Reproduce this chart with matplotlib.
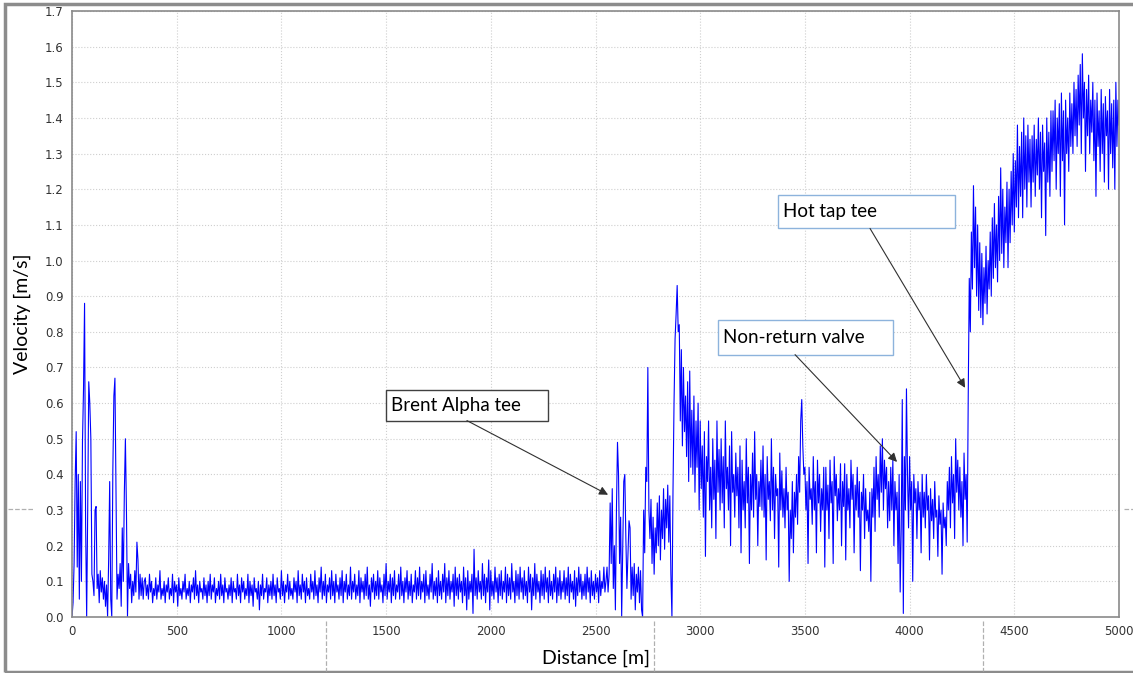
import numpy as np
import matplotlib.pyplot as plt
from matplotlib.patches import Rectangle
from matplotlib.lines import Line2D

# 速度数据 (m/s)，分段按固定采样间距读取
inlet_start, inlet_step = 0, 5
inlet_v = [0.00, 0.04, 0.15, 0.38, 0.52, 0.14, 0.40, 0.05, 0.38, 0.10,
           0.49, 0.64, 0.88, 0.26, 0.00, 0.30, 0.66, 0.60, 0.50, 0.12,
           0.10, 0.06, 0.30, 0.31, 0.08, 0.12, 0.04, 0.13, 0.07, 0.11,
           0.05, 0.10, 0.03, 0.09, 0.00, 0.16, 0.38, 0.05, 0.00, 0.41,
           0.62, 0.67, 0.35, 0.05, 0.12, 0.08, 0.15, 0.03, 0.25, 0.10,
           0.35, 0.50, 0.30, 0.00, 0.15, 0.08, 0.12, 0.04, 0.10, 0.06,
           0.13, 0.07, 0.21, 0.16, 0.05, 0.12, 0.06, 0.11, 0.05, 0.10]

low_start, low_step = 350, 5
low_v = [0.11, 0.06, 0.09, 0.05, 0.12, 0.07, 0.10, 0.04, 0.08, 0.06, 0.11, 0.05, 0.09, 0.07, 0.13, 0.05, 0.08, 0.06, 0.10, 0.04,
         0.09, 0.07, 0.11, 0.05, 0.08, 0.06, 0.12, 0.04, 0.10, 0.07, 0.09, 0.03, 0.11, 0.06, 0.08, 0.05, 0.10, 0.07, 0.12, 0.05,
         0.08, 0.06, 0.10, 0.04, 0.09, 0.07, 0.11, 0.05, 0.13, 0.06, 0.09, 0.04, 0.10, 0.07, 0.08, 0.05, 0.11, 0.06, 0.09, 0.04,
         0.10, 0.06, 0.12, 0.05, 0.09, 0.07, 0.11, 0.04, 0.08, 0.06, 0.10, 0.05, 0.12, 0.06, 0.09, 0.04, 0.11, 0.07, 0.08, 0.05,
         0.09, 0.06, 0.11, 0.04, 0.10, 0.07, 0.08, 0.05, 0.12, 0.06, 0.09, 0.04, 0.11, 0.07, 0.10, 0.05, 0.08, 0.06, 0.12, 0.04,
         0.10, 0.06, 0.09, 0.03, 0.11, 0.07, 0.08, 0.05, 0.10, 0.02, 0.09, 0.06, 0.12, 0.05, 0.08, 0.07, 0.11, 0.04, 0.09, 0.06,
         0.10, 0.05, 0.12, 0.06, 0.09, 0.04, 0.11, 0.07, 0.08, 0.05, 0.13, 0.06, 0.10, 0.04, 0.09, 0.07, 0.12, 0.05, 0.10, 0.06,
         0.08, 0.05, 0.11, 0.07, 0.10, 0.04, 0.13, 0.06, 0.09, 0.05, 0.12, 0.07, 0.10, 0.04, 0.11, 0.06, 0.08, 0.05, 0.12, 0.07,
         0.10, 0.05, 0.13, 0.06, 0.09, 0.04, 0.11, 0.07, 0.14, 0.05, 0.10, 0.06, 0.12, 0.04, 0.09, 0.07, 0.11, 0.05, 0.13, 0.06,
         0.10, 0.04, 0.12, 0.07, 0.09, 0.05, 0.11, 0.06, 0.13, 0.04, 0.10, 0.07, 0.12, 0.05, 0.09, 0.06, 0.14, 0.05, 0.10, 0.07,
         0.12, 0.05, 0.09, 0.06, 0.13, 0.04, 0.11, 0.07, 0.10, 0.05, 0.12, 0.06, 0.14, 0.05, 0.09, 0.03, 0.11, 0.07, 0.12, 0.05,
         0.10, 0.06, 0.13, 0.05, 0.11, 0.07, 0.09, 0.04, 0.12, 0.06, 0.15, 0.05, 0.10, 0.07, 0.12, 0.04, 0.11, 0.06, 0.13, 0.05,
         0.09, 0.07, 0.12, 0.05, 0.14, 0.06, 0.10, 0.04, 0.11, 0.07, 0.13, 0.05, 0.10, 0.06, 0.12, 0.04, 0.09, 0.07, 0.13, 0.05,
         0.11, 0.06, 0.14, 0.05, 0.10, 0.07, 0.12, 0.04, 0.13, 0.06, 0.09, 0.05, 0.12, 0.07, 0.15, 0.05, 0.10, 0.06, 0.11, 0.04,
         0.13, 0.06, 0.10, 0.05, 0.12, 0.07, 0.15, 0.04, 0.11, 0.06, 0.13, 0.05, 0.10, 0.07, 0.12, 0.03, 0.14, 0.06, 0.11, 0.05,
         0.12, 0.07, 0.10, 0.04, 0.14, 0.06, 0.11, 0.02, 0.13, 0.05, 0.10, 0.07, 0.12, 0.01, 0.19, 0.06, 0.11, 0.05, 0.13, 0.07,
         0.10, 0.05, 0.15, 0.06, 0.12, 0.04, 0.11, 0.07, 0.16, 0.02, 0.13, 0.06, 0.10, 0.05, 0.14, 0.07, 0.11, 0.04, 0.12, 0.06,
         0.13, 0.05, 0.10, 0.07, 0.14, 0.04, 0.12, 0.06, 0.11, 0.05, 0.15, 0.07, 0.10, 0.04, 0.13, 0.06, 0.12, 0.05, 0.14, 0.07,
         0.11, 0.05, 0.13, 0.06, 0.10, 0.04, 0.14, 0.07, 0.12, 0.02, 0.11, 0.06, 0.15, 0.05, 0.12, 0.07, 0.10, 0.04, 0.13, 0.06,
         0.12, 0.05, 0.14, 0.07, 0.11, 0.04, 0.13, 0.06, 0.10, 0.05, 0.12, 0.07, 0.14, 0.04, 0.11, 0.06, 0.13, 0.05, 0.10, 0.07,
         0.13, 0.05, 0.11, 0.06, 0.14, 0.04, 0.12, 0.07, 0.10, 0.05, 0.13, 0.03, 0.11, 0.06, 0.14, 0.07, 0.12, 0.05, 0.10, 0.06,
         0.12, 0.05, 0.14, 0.07, 0.11, 0.04, 0.13, 0.06, 0.10, 0.05, 0.12, 0.07, 0.11, 0.04, 0.13, 0.06, 0.10, 0.08, 0.14, 0.07]

brent_start, brent_step = 2550, 5
brent_v = [0.10, 0.14, 0.07, 0.12, 0.32, 0.15, 0.36, 0.08, 0.20, 0.02,
           0.30, 0.49, 0.40, 0.15, 0.28, 0.00, 0.20, 0.38, 0.40, 0.22,
           0.08, 0.18, 0.27, 0.25, 0.05, 0.14, 0.06, 0.15, 0.02, 0.12,
           0.07, 0.14, 0.04, 0.13, 0.02, 0.00, 0.30, 0.18, 0.42, 0.38,
           0.70, 0.30, 0.22, 0.33, 0.15, 0.28, 0.12, 0.25, 0.18, 0.32,
           0.20, 0.34, 0.16, 0.30, 0.22, 0.36, 0.19, 0.33, 0.25, 0.37,
           0.21, 0.34, 0.12, 0.00, 0.35, 0.60, 0.78, 0.85, 0.93, 0.80]

mid_start, mid_step = 2900, 5
mid_v = [0.82, 0.55, 0.75, 0.48, 0.70, 0.52, 0.62, 0.45, 0.66, 0.38, 0.69, 0.42, 0.58, 0.40, 0.62, 0.35, 0.55, 0.42, 0.60, 0.30,
         0.55, 0.36, 0.48, 0.28, 0.52, 0.17, 0.45, 0.38, 0.55, 0.30, 0.42, 0.25, 0.50, 0.33, 0.44, 0.22, 0.55, 0.35, 0.47, 0.30,
         0.50, 0.32, 0.45, 0.25, 0.55, 0.36, 0.42, 0.30, 0.48, 0.20, 0.52, 0.35, 0.40, 0.28, 0.46, 0.34, 0.42, 0.25, 0.48, 0.18,
         0.44, 0.30, 0.38, 0.25, 0.50, 0.32, 0.42, 0.15, 0.40, 0.30, 0.46, 0.28, 0.52, 0.33, 0.40, 0.20, 0.38, 0.31, 0.44, 0.30,
         0.48, 0.28, 0.40, 0.16, 0.45, 0.33, 0.38, 0.27, 0.50, 0.30, 0.42, 0.22, 0.40, 0.34, 0.36, 0.14, 0.46, 0.30, 0.41, 0.28,
         0.36, 0.25, 0.42, 0.30, 0.35, 0.10, 0.30, 0.22, 0.38, 0.18, 0.35, 0.28, 0.40, 0.26, 0.45, 0.35, 0.55, 0.61, 0.48, 0.40,
         0.42, 0.30, 0.38, 0.15, 0.42, 0.33, 0.36, 0.26, 0.45, 0.30, 0.38, 0.18, 0.44, 0.32, 0.40, 0.24, 0.36, 0.30, 0.42, 0.14,
         0.42, 0.30, 0.37, 0.22, 0.44, 0.32, 0.38, 0.15, 0.45, 0.34, 0.40, 0.27, 0.36, 0.30, 0.43, 0.20, 0.38, 0.31, 0.43, 0.16,
         0.40, 0.30, 0.36, 0.25, 0.44, 0.33, 0.40, 0.18, 0.37, 0.30, 0.42, 0.28, 0.38, 0.13, 0.35, 0.30, 0.40, 0.22, 0.36, 0.27,
         0.30, 0.24, 0.35, 0.10, 0.36, 0.28, 0.42, 0.24, 0.45, 0.33, 0.40, 0.28, 0.48, 0.35, 0.50, 0.30, 0.44, 0.36, 0.42, 0.25,
         0.38, 0.27, 0.42, 0.30, 0.44, 0.20, 0.38, 0.30, 0.35, 0.15, 0.40, 0.07, 0.25, 0.61, 0.01, 0.45, 0.30, 0.64, 0.40, 0.25,
         0.45, 0.30, 0.38, 0.10, 0.40, 0.32, 0.36, 0.22, 0.38, 0.30, 0.35, 0.18, 0.40, 0.28, 0.35, 0.25, 0.40, 0.30, 0.34, 0.16,
         0.36, 0.27, 0.33, 0.22, 0.38, 0.28, 0.30, 0.17, 0.34, 0.26, 0.30, 0.12, 0.32, 0.25, 0.28, 0.20, 0.38, 0.30, 0.42, 0.25,
         0.45, 0.32, 0.40, 0.22, 0.50, 0.35, 0.44, 0.30, 0.42, 0.28, 0.38, 0.20, 0.46, 0.33, 0.40, 0.21]

hot_start, hot_step = 4280, 5
hot_v = [0.62, 0.95, 0.80, 1.08, 0.92, 1.21, 0.98, 1.15, 0.90, 1.10, 0.86, 1.05, 0.84, 1.02, 0.82, 0.98, 0.88, 1.04, 0.85, 1.00,
         0.92, 1.08, 0.90, 1.12, 0.95, 1.16, 0.98, 1.10, 0.94, 1.18, 1.00, 1.26, 1.02, 1.20, 0.98, 1.15, 1.05, 1.22, 0.98, 1.20,
         1.05, 1.25, 1.10, 1.30, 1.08, 1.28, 1.15, 1.38, 1.12, 1.32, 1.18, 1.36, 1.12, 1.40, 1.20, 1.35, 1.15, 1.38, 1.22, 1.34,
         1.15, 1.35, 1.22, 1.38, 1.18, 1.34, 1.24, 1.40, 1.20, 1.36, 1.12, 1.38, 1.25, 1.33, 1.07, 1.40, 1.22, 1.36, 1.18, 1.42,
         1.25, 1.42, 1.28, 1.45, 1.20, 1.40, 1.30, 1.44, 1.18, 1.47, 1.28, 1.42, 1.10, 1.45, 1.30, 1.40, 1.25, 1.47, 1.32, 1.44,
         1.30, 1.50, 1.35, 1.48, 1.32, 1.52, 1.38, 1.55, 1.30, 1.58, 1.40, 1.50, 1.25, 1.48, 1.35, 1.52, 1.30, 1.45, 1.36, 1.50,
         1.28, 1.45, 1.18, 1.47, 1.32, 1.42, 1.25, 1.48, 1.30, 1.44, 1.22, 1.46, 1.35, 1.42, 1.20, 1.48, 1.30, 1.44, 1.26, 1.45,
         1.20, 1.50, 1.32, 1.45, 1.38]

segments = [(inlet_start, inlet_step, inlet_v), (low_start, low_step, low_v),
            (brent_start, brent_step, brent_v), (mid_start, mid_step, mid_v),
            (hot_start, hot_step, hot_v)]
dist = np.concatenate([s + st * np.arange(len(v)) for s, st, v in segments])
vel = np.concatenate([np.array(v) for _, _, v in segments])

# 注释 (文字, 箭头起点, 箭头终点, 框范围, 框颜色)
notes = [
    ("Brent Alpha tee", (1886, 0.551), (2560, 0.343), (1500, 2273, 0.551, 0.638), "#404040"),
    ("Non-return valve", (3453, 0.736), (3940, 0.435), (3085, 3921, 0.736, 0.834), "#8db3dc"),
    ("Hot tap tee", (3811, 1.090), (4265, 0.643), (3372, 4217, 1.090, 1.185), "#8db3dc"),
]

W, H = 1133, 673
fig = plt.figure(figsize=(W / 100, H / 100), dpi=100)
ax = fig.add_axes([72 / W, 1 - 617 / H, (1119 - 72) / W, (617 - 11) / H])

ax.plot(dist, vel, color='#0000ff', lw=0.8)

ax.set_xlim(0, 5000)
ax.set_ylim(0, 1.7)
ax.set_xticks(np.arange(0, 5001, 500))
ax.set_yticks(np.arange(0, 1.71, 0.1))
ax.set_yticklabels([f"{t:.1f}" for t in np.arange(0, 1.71, 0.1)])
ax.tick_params(length=0, labelsize=8.5, labelcolor='#333333', pad=6)
ax.grid(True, ls=':', color='#cfcfcf', lw=0.8)
ax.set_axisbelow(True)
for sp in ax.spines.values():
    sp.set_color('#8a8a8a')
    sp.set_linewidth(1.2)

ax.set_xlabel("Distance [m]", fontsize=14, family='Lato', labelpad=8)
ax.set_ylabel("Velocity [m/s]", fontsize=14, family='Lato', labelpad=10)

for text, start, tip, (x0, x1, y0, y1), ec in notes:
    ax.add_patch(Rectangle((x0, y0), x1 - x0, y1 - y0, facecolor='white',
                           edgecolor=ec, lw=1.0, zorder=5))
    ax.text(x0 + 25, (y0 + y1) / 2, text, fontsize=13.5, family='Lato',
            va='center', ha='left', zorder=6)
    ax.annotate("", xy=tip, xytext=start, zorder=6,
                arrowprops=dict(arrowstyle='-|>', color='#303030', lw=0.8,
                                mutation_scale=13, shrinkA=0, shrinkB=0))

# 截图外框和分隔虚线
fig.add_artist(Rectangle((5 / W, 1 - 672 / H), 1.0, (672 - 4) / H, fill=False,
                         edgecolor='#8c8c8c', lw=2.5, transform=fig.transFigure))
for px in (326, 654, 983):
    fig.add_artist(Line2D([px / W, px / W], [1 - 621 / H, 1 - 671 / H], ls='--',
                          color='#b0b0b0', lw=0.9, transform=fig.transFigure))
for x0, x1 in ((8, 33), (1124, 1133)):
    fig.add_artist(Line2D([x0 / W, x1 / W], [1 - 509 / H, 1 - 509 / H], ls='--',
                          color='#b0b0b0', lw=0.9, transform=fig.transFigure))

fig.savefig("out.png", dpi=100)
